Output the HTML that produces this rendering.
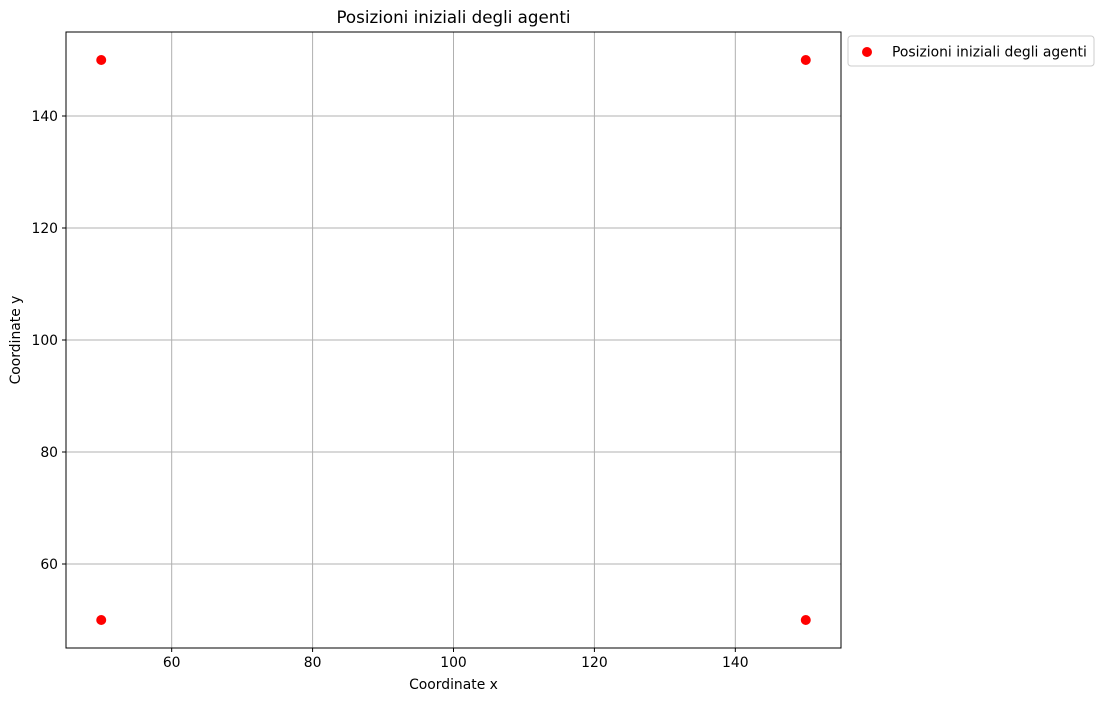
<!DOCTYPE html>
<html><head><meta charset="utf-8"><style>
body{margin:0;background:#fff;font-family:"Liberation Sans","DejaVu Sans",sans-serif}
</style></head><body>
<svg width="1102" height="701" xmlns="http://www.w3.org/2000/svg" font-family="DejaVu Sans, Liberation Sans, sans-serif">
<g id="grid"></g>
<rect x="66" y="32" width="775" height="616" fill="none" stroke="#000" stroke-width="1"/>
<g id="xt"></g>
<g id="yt"></g>
<g id="pts"></g>
<text x="453.5" y="23" text-anchor="middle" font-size="16.7">Posizioni iniziali degli agenti</text>
<text x="453.5" y="689" text-anchor="middle" font-size="13.9">Coordinate x</text>
<text x="20" y="340" text-anchor="middle" font-size="13.9" transform="rotate(-90 20 340)">Coordinate y</text>
<g>
<rect x="848" y="36" width="246" height="30" rx="3" fill="#fff" stroke="#ccc"/>
<circle cx="867" cy="52" r="5" fill="#ff0000"/>
<text x="892" y="56.5" font-size="13.9">Posizioni iniziali degli agenti</text>
</g>
</svg>
<script>
const xs=[50,150,50,150];
const ys=[150,150,50,50];
const xTicks=[60,80,100,120,140];
const yTicks=[60,80,100,120,140];
const X=v=>66+(v-45)/110*775;
const Y=v=>648-(v-45)/110*616;
const NS="http://www.w3.org/2000/svg";
function mk(t,a,p){const e=document.createElementNS(NS,t);for(const k in a)e.setAttribute(k,a[k]);p.appendChild(e);return e;}
const g=document.getElementById('grid'),xt=document.getElementById('xt'),yt=document.getElementById('yt'),pts=document.getElementById('pts');
xTicks.forEach(v=>{const x=X(v);
const l=mk('line',{x1:x,x2:x,y1:32,y2:648,stroke:'#b0b0b0','stroke-width':1},g);


const t=mk('line',{x1:x,x2:x,y1:648,y2:652,stroke:'#000'},xt);


const s=mk('text',{x:x,y:667,'text-anchor':'middle','font-size':13.9},xt);s.textContent=v;

});
yTicks.forEach(v=>{const y=Y(v);
const l=mk('line',{x1:66,x2:841,y1:y,y2:y,stroke:'#b0b0b0','stroke-width':1},g);


const t=mk('line',{x1:62,x2:66,y1:y,y2:y,stroke:'#000'},yt);


const s=mk('text',{x:58,y:y+5,'text-anchor':'end','font-size':13.9},yt);s.textContent=v;

});
xs.forEach((v,i)=>{const c=mk('circle',{cx:X(v),cy:Y(ys[i]),r:5,fill:'#ff0000'},pts);

});
</script>
</body></html>
